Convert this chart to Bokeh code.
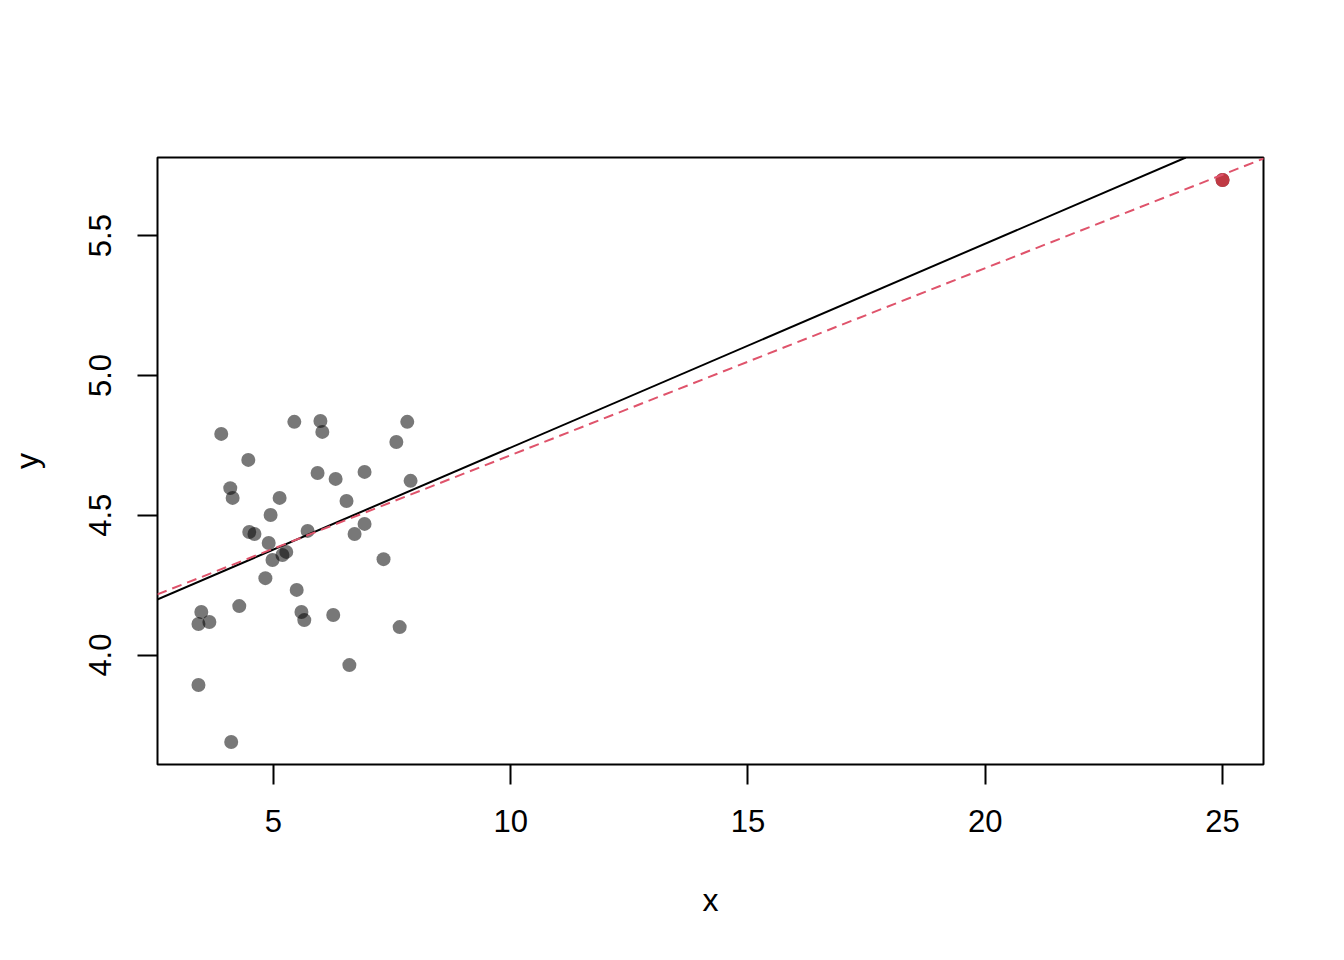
from bokeh.plotting import figure
from bokeh.models import Range1d, FixedTicker, Slope, ColumnDataSource
from bokeh.embed import file_html
from bokeh.resources import INLINE
import numpy as np

# ---- data ----
x_vals = [3.90, 4.47, 4.09, 4.14, 4.49, 4.60, 4.94, 5.13, 4.90, 4.98,
          5.19, 5.27, 4.83, 4.28, 3.48, 3.42, 3.65, 3.42, 4.11, 5.44,
          5.99, 6.03, 5.93, 6.31, 6.92, 6.54, 5.72, 6.71, 6.92, 5.49,
          5.59, 5.65, 6.26, 6.60, 7.32, 7.59, 7.82, 7.89, 7.66, 25.0]
y_vals = [4.791, 4.698, 4.597, 4.562, 4.440, 4.433, 4.501, 4.562, 4.401, 4.340,
          4.358, 4.369, 4.275, 4.175, 4.154, 4.111, 4.118, 3.893, 3.689, 4.834,
          4.837, 4.798, 4.651, 4.630, 4.655, 4.551, 4.444, 4.433, 4.469, 4.233,
          4.154, 4.125, 4.143, 3.964, 4.343, 4.762, 4.834, 4.623, 4.100, 5.699]
highlight_x = [25.0]
highlight_y = [5.699]

true_intercept, true_slope = 4.0126, 0.07293
fit_intercept, fit_slope = 4.0462, 0.06687

x_ticks = [5, 10, 15, 20, 25]
x_tick_labels = ["5", "10", "15", "20", "25"]
y_ticks = [4.0, 4.5, 5.0, 5.5]
y_tick_labels = ["4.0", "4.5", "5.0", "5.5"]

# R-style 4% padded ranges
def padded(v):
    lo, hi = min(v), max(v)
    d = (hi - lo) * 0.04
    return lo - d, hi + d

xr = padded(x_vals)
yr = padded(y_vals)

FONT = "Liberation Sans"

p = figure(frame_width=1106, frame_height=607,
           min_border_left=157, min_border_top=157,
           min_border_right=72, min_border_bottom=188,
           x_range=Range1d(*xr), y_range=Range1d(*yr),
           output_backend="svg", toolbar_location=None,
           background_fill_color="white", border_fill_color="white")
p.grid.visible = False
p.outline_line_color = "black"
p.outline_line_width = 2

for ax in (p.xaxis[0], p.yaxis[0]):
    ax.axis_line_color = None
    ax.major_tick_out = 20
    ax.major_tick_in = 0
    ax.minor_tick_line_color = None
    ax.major_tick_line_width = 2
    ax.major_tick_line_color = "black"
    ax.major_label_text_font = FONT
    ax.major_label_text_font_size = "31px"
    ax.major_label_text_color = "black"
    ax.axis_label_text_font = FONT
    ax.axis_label_text_font_size = "32px"
    ax.axis_label_text_font_style = "normal"
    ax.axis_label_text_color = "black"

p.xaxis.ticker = FixedTicker(ticks=x_ticks)
p.xaxis.major_label_overrides = dict(zip(x_ticks, x_tick_labels))
p.yaxis.ticker = FixedTicker(ticks=y_ticks)
p.yaxis.major_label_overrides = dict(zip(y_ticks, y_tick_labels))
p.yaxis.major_label_orientation = "vertical"
p.xaxis.axis_label = "x"
p.yaxis.axis_label = "y"
p.xaxis.major_label_standoff = 25
p.yaxis.major_label_standoff = 26
p.xaxis.axis_label_standoff = 47
p.yaxis.axis_label_standoff = 42

src = ColumnDataSource(dict(x=x_vals, y=y_vals))
p.scatter("x", "y", source=src, size=14, fill_color="black", fill_alpha=0.53,
          line_color=None)
p.scatter(highlight_x, highlight_y, size=14, fill_color="#C03A44", line_color=None)

p.add_layout(Slope(gradient=true_slope, y_intercept=true_intercept,
                   line_color="black", line_width=2))
p.add_layout(Slope(gradient=fit_slope, y_intercept=fit_intercept,
                   line_color="#DF536B", line_width=2, line_dash="10 6"))

open("out.html", "w").write(file_html(p, INLINE))
